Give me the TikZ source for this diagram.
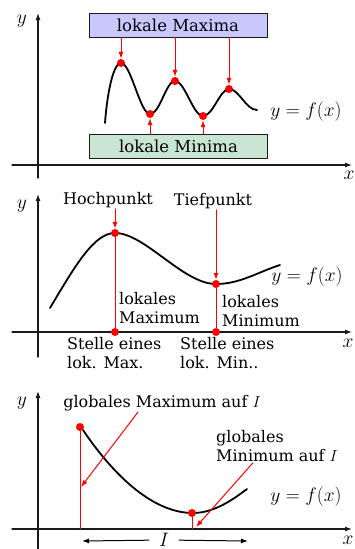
\RequirePackage{fix-cm}
\documentclass[tikz,border=0pt]{standalone}
\usepackage{fontspec}
\setmainfont{DejaVu Serif}
\usepackage{tikz}
\usetikzlibrary{arrows.meta,positioning}
\definecolor{maxfill}{HTML}{C8C8FF}
\definecolor{minfill}{HTML}{C8E6D2}
\definecolor{hot}{HTML}{FF0000}
\definecolor{ink}{HTML}{1A1A1A}
\tikzset{
  axis/.style={ink,line width=1.1pt,-{Latex[length=7pt,width=5pt]}},
  graph/.style={black,line width=1.8pt},
  redline/.style={hot,line width=1pt},
  redarrow/.style={redline,-{Latex[length=7pt,width=5pt]}},
  iarrow/.style={black,line width=1pt,-{Latex[length=7pt,width=5pt]}},
  reddot/.style={circle,fill=hot,inner sep=0pt,minimum size=8pt},
  lab/.style={font=\fontsize{16}{19}\selectfont,inner sep=1pt},
  mathlab/.style={font=\fontsize{19.5}{22}\selectfont,inner sep=0pt},
  box/.style={draw=ink,line width=1pt,minimum width=178pt,minimum height=24pt,
    inner sep=0pt,font=\fontsize{16.5}{19}\selectfont},
  maxbox/.style={box,fill=maxfill},
  minbox/.style={box,fill=minfill}
}
\begin{document}
\begin{tikzpicture}[x=1pt,y=-1pt,line cap=round]
  \useasboundingbox (0,0) rectangle (355,549);
  % lokale Extrema
  \draw[axis] (12,165) -- (352,165);
  \draw[axis] (38,178) -- (38,13);
  \node[mathlab] (ya) at (22,21) {$y$};
  \node[mathlab] (xa) at (349,175) {$x$};
  \draw[graph] (105,123) .. controls (107,95) and (113,63) .. (121,63)
    .. controls (131,63) and (140,114) .. (150,114)
    .. controls (160,114) and (166,81) .. (175,81)
    .. controls (185,81) and (193,116) .. (203,116)
    .. controls (213,116) and (220,89) .. (229,89)
    .. controls (239,89) and (246,110) .. (257,110);
  \node[reddot] (ma1) at (121,63) {};
  \node[reddot] (ma2) at (175,81) {};
  \node[reddot] (ma3) at (229,89) {};
  \node[reddot] (mi1) at (150,114) {};
  \node[reddot] (mi2) at (203,116) {};
  \node[maxbox] (maxi) at (178,25) {lokale Maxima};
  \node[minbox] (mini) at (178.5,146.5) {lokale Minima};
  \foreach \p in {ma1,ma2,ma3}
    \draw[redarrow] (maxi.south -| \p) -- (\p);
  \foreach \p in {mi1,mi2}
    \draw[redarrow] (mini.north -| \p) -- (\p);
  \node[mathlab] (fa) at (306,112) {$y=f(x)$};

  % Hoch- und Tiefpunkt
  \draw[axis] (12,332) -- (352,332);
  \draw[axis] (38,357) -- (38,194);
  \node[mathlab] (yb) at (22,206) {$y$};
  \node[mathlab] (xb) at (348,343) {$x$};
  \draw[graph] (50,308) .. controls (75,266) and (94,233) .. (115,233)
    .. controls (145,233) and (183,284) .. (216,284)
    .. controls (240,284) and (258,272) .. (280,265);
  \node[reddot] (hp) at (115,233) {};
  \node[reddot] (tp) at (216,284) {};
  \node[reddot] (hx) at (115,332) {};
  \node[reddot] (tx) at (216,332) {};
  \node[lab] (hoch) at (108,200) {Hochpunkt};
  \node[lab] (tief) at (213,201) {Tiefpunkt};
  \draw[redarrow] (hoch.south -| hp) -- (hp);
  \draw[redarrow] (tief.south -| tp) -- (tp);
  \draw[redline] (hp) -- (hx);
  \draw[redline] (tp) -- (tx);
  \node[lab,anchor=north west,align=left] (lmax) at (118,291) {lokales\\Maximum};
  \node[lab,anchor=north west,align=left] (lmin) at (221,294) {lokales\\Minimum};
  \node[lab,anchor=north west,align=left] (smax) at (66,336) {Stelle eines\\lok. Max.};
  \node[lab,anchor=north west,align=left] (smin) at (179,336) {Stelle eines\\lok. Min..};
  \node[mathlab] (fb) at (307,277) {$y=f(x)$};

  % globale Extrema
  \draw[axis] (12,529) -- (352,529);
  \draw[axis] (38,549) -- (38,391);
  \node[mathlab] (yc) at (22,403) {$y$};
  \node[mathlab] (xc) at (348,540) {$x$};
  \draw[graph] (83,430) .. controls (110,470) and (150,513) .. (193,513)
    .. controls (215,513) and (235,498) .. (247,489);
  \node[reddot] (gm) at (80,427) {};
  \node[reddot] (gn) at (192,513) {};
  \coordinate (gmx) at (80,529);
  \coordinate (gnx) at (192,529);
  \draw[redline] (gm) -- (gmx);
  \draw[redline] (gn) -- (gnx);
  \node[lab] (gmaxlab) at (162,403) {globales Maximum auf $I$};
  \node[lab,anchor=north west,align=left] (gminlab) at (215,429) {globales\\Minimum auf $I$};
  \coordinate (gmtip) at (81,487);
  \coordinate (gntip) at (196,527);
  \draw[redarrow] ([xshift=-24pt]gmaxlab.south) -- (gmtip);
  \draw[redarrow] ([xshift=38pt]gminlab.south west) -- (gntip);
  \node[mathlab,inner xsep=10pt] (intv) at (164,540) {$I$};
  \coordinate (ia) at (82,541);
  \coordinate (ib) at (248,541);
  \draw[iarrow] (intv) -- (ia);
  \draw[iarrow] (intv) -- (ib);
  \node[mathlab] (fc) at (306,497) {$y=f(x)$};
\end{tikzpicture}
\end{document}
